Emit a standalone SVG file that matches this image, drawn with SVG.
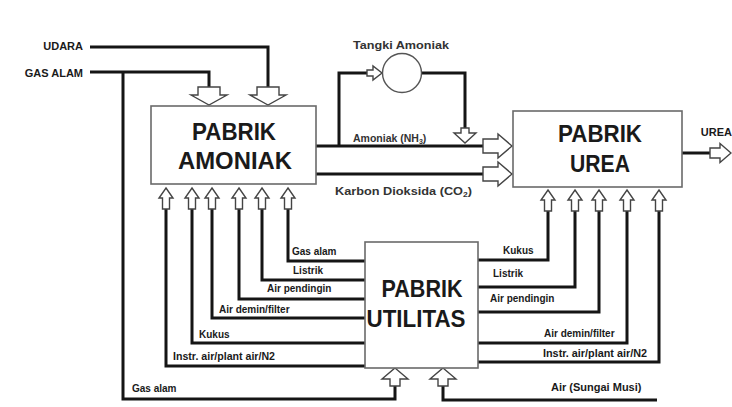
<svg xmlns="http://www.w3.org/2000/svg" width="732" height="407" viewBox="0 0 732 407">
<defs>
<style>
.ln{fill:none;stroke:#151515;stroke-width:3;stroke-linejoin:miter}
.box{fill:#fff;stroke:#6a6a6a;stroke-width:1.6}
.ar{fill:#fff;stroke:#444;stroke-width:1.4;stroke-linejoin:miter}
.big{font-family:"Liberation Sans",Arial,sans-serif;font-weight:bold;font-size:23px;fill:#1a1a1a;text-anchor:middle}
.lb{font-family:"Liberation Sans",Arial,sans-serif;font-weight:bold;font-size:10px;fill:#1a1a1a}
.lb2{font-family:"Liberation Sans",Arial,sans-serif;font-weight:bold;font-size:11px;fill:#1a1a1a}
.gr{font-family:"Liberation Sans",Arial,sans-serif;font-weight:bold;font-size:10.5px;fill:#333}
</style>
<path id="upS" d="M0,0 L7,10 L3.5,10 L3.5,21 L-3.5,21 L-3.5,10 L-7,10 Z"/>
<path id="downB" d="M-11,0 L11,0 L11,8 L18,8 L0,18 L-18,8 L-11,8 Z"/>
<path id="rightB" d="M0,-7 L15,-7 L15,-12 L29,0 L15,12 L15,7 L0,7 Z"/>
<path id="upB" d="M0,0 L13,11 L5,11 L5,18 L-5,18 L-5,11 L-13,11 Z"/>
</defs>
<rect width="732" height="407" fill="#fff"/>

<g id="connectors">
<polyline class="ln" points="90,47 268,47 268,88"/>
<polyline class="ln" points="90,72 209,72 209,88"/>
<polyline class="ln" points="123,72 123,399 395,399 395,385"/>
<polyline class="ln" points="339,146 339,73 368,73"/>
<polyline class="ln" points="421,73 465,73 465,129"/>
<line class="ln" x1="316" y1="146" x2="484" y2="146"/>
<line class="ln" x1="316" y1="174" x2="484" y2="174"/>
<line class="ln" x1="682" y1="153" x2="711" y2="153"/>
<polyline class="ln" points="365,261 288,261 288,208"/>
<polyline class="ln" points="365,280 262,280 262,208"/>
<polyline class="ln" points="365,299 239,299 239,208"/>
<polyline class="ln" points="365,318 212,318 212,208"/>
<polyline class="ln" points="365,343 192,343 192,208"/>
<polyline class="ln" points="365,366 166,366 166,208"/>
<polyline class="ln" points="478,260 548,260 548,210"/>
<polyline class="ln" points="478,287 575,287 575,210"/>
<polyline class="ln" points="478,312 599,312 599,210"/>
<polyline class="ln" points="478,343 627,343 627,210"/>
<polyline class="ln" points="478,362 659,362 659,210"/>
<polyline class="ln" points="657,400 443,400 443,385"/>

<use href="#downB" class="ar" x="209" y="87"/>
<use href="#downB" class="ar" x="268" y="87"/>
<use href="#rightB" class="ar" x="483" y="146"/>
<use href="#rightB" class="ar" x="483" y="174"/>
<path class="ar" d="M710,148 L720,148 L720,143.5 L731,153 L720,162.5 L720,158 L710,158 Z"/>
<path class="ar" d="M367,70 L373,70 L373,66 L382,73 L373,80 L373,76 L367,76 Z"/>
<path class="ar" d="M461,128 L469,128 L469,133 L476,133 L465,143 L454,133 L461,133 Z"/>
<use href="#upS" class="ar" x="166" y="188"/>
<use href="#upS" class="ar" x="192" y="188"/>
<use href="#upS" class="ar" x="212" y="188"/>
<use href="#upS" class="ar" x="239" y="188"/>
<use href="#upS" class="ar" x="262" y="188"/>
<use href="#upS" class="ar" x="288" y="188"/>
<use href="#upS" class="ar" x="548" y="190"/>
<use href="#upS" class="ar" x="575" y="190"/>
<use href="#upS" class="ar" x="599" y="190"/>
<use href="#upS" class="ar" x="627" y="190"/>
<use href="#upS" class="ar" x="659" y="190"/>
<use href="#upB" class="ar" x="395" y="368"/>
<use href="#upB" class="ar" x="443" y="368"/>
</g>

<g id="node-amoniak">
<rect class="box" x="151" y="106" width="165" height="78"/>
<text class="big" x="234" y="140" textLength="84" lengthAdjust="spacingAndGlyphs">PABRIK</text>
<text class="big" x="235" y="169" textLength="114" lengthAdjust="spacingAndGlyphs">AMONIAK</text>
</g>

<g id="node-urea">
<rect class="box" x="513" y="111" width="169" height="76"/>
<text class="big" x="600" y="142" textLength="84" lengthAdjust="spacingAndGlyphs">PABRIK</text>
<text class="big" x="600" y="172" textLength="60" lengthAdjust="spacingAndGlyphs">UREA</text>
</g>

<g id="node-utilitas">
<rect class="box" x="365" y="242" width="113" height="126"/>
<text class="big" x="422" y="297" textLength="81" lengthAdjust="spacingAndGlyphs">PABRIK</text>
<text class="big" x="416" y="327" textLength="99" lengthAdjust="spacingAndGlyphs">UTILITAS</text>
</g>

<g id="node-tangki">
<circle cx="402" cy="73" r="19.5" fill="#fff" stroke="#555" stroke-width="1.4"/>
<text class="gr" x="401" y="49" text-anchor="middle" textLength="96" lengthAdjust="spacingAndGlyphs">Tangki Amoniak</text>
</g>

<g id="labels">
<text class="lb2" x="83" y="50" text-anchor="end">UDARA</text>
<text class="lb2" x="83" y="77" text-anchor="end">GAS ALAM</text>
<text class="lb2" x="732" y="136" text-anchor="end">UREA</text>
<text class="gr" x="353" y="142">Amoniak (NH<tspan font-size="7" dy="2">3</tspan><tspan dy="-2">)</tspan></text>
<text class="gr" x="335" y="195" textLength="137" lengthAdjust="spacingAndGlyphs">Karbon Dioksida (CO<tspan font-size="7" dy="2">2</tspan><tspan dy="-2">)</tspan></text>

<text class="lb" x="292" y="255">Gas alam</text>
<text class="lb" x="293" y="274">Listrik</text>
<text class="lb" x="267" y="292">Air pendingin</text>
<text class="lb" x="219" y="313">Air demin/filter</text>
<text class="lb" x="199" y="338">Kukus</text>
<text class="lb" x="173" y="360" textLength="102" lengthAdjust="spacingAndGlyphs">Instr. air/plant air/N2</text>
<text class="lb" x="132" y="392">Gas alam</text>

<text class="lb" x="503" y="254">Kukus</text>
<text class="lb" x="493" y="277">Listrik</text>
<text class="lb" x="490" y="302">Air pendingin</text>
<text class="lb" x="544" y="337">Air demin/filter</text>
<text class="lb" x="543" y="357" textLength="104" lengthAdjust="spacingAndGlyphs">Instr. air/plant air/N2</text>
<text class="lb2" x="551" y="391">Air (Sungai Musi)</text>
</g>
</svg>
